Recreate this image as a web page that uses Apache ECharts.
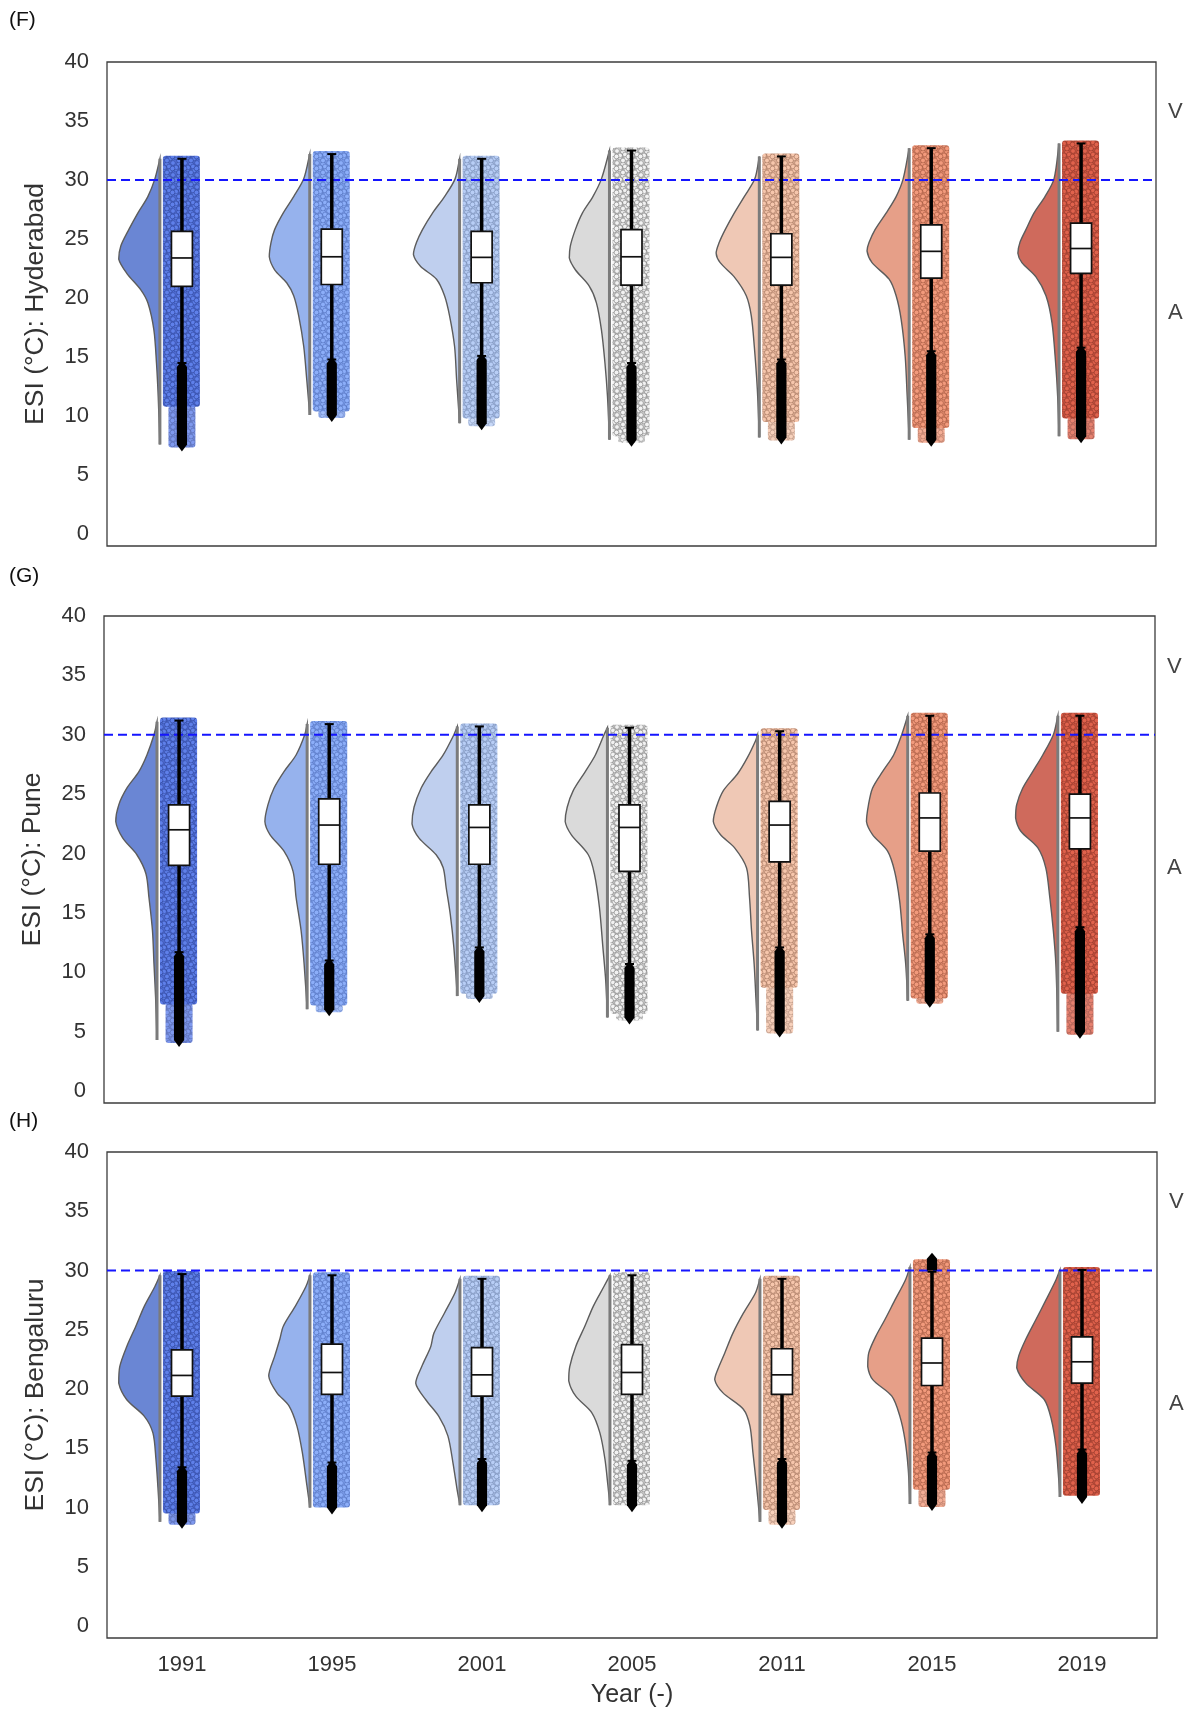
<!DOCTYPE html>
<html><head><meta charset="utf-8">
<script src="https://cdn.jsdelivr.net/npm/echarts@6/dist/echarts.min.js"></script>
<style>html,body{margin:0;padding:0;background:#fff}#c{width:1192px;height:1711px}</style>
</head><body><div id="c"></div><script>
// ---------------- data ----------------
const years = ['1991','1995','2001','2005','2011','2015','2019'];
const yTicks = [0,5,10,15,20,25,30,35,40];
const threshold = 30;
const zoneLabels = ['V','A'];
const zoneCenters = [35.75, 18.75];
const panelTags = ['(F)','(G)','(H)'];
const cityNames = ['Hyderabad','Pune','Bengaluru'];

// box rows: [whiskerLow, q1, median, q3, whiskerHigh]
const hydBox = [[14.5,21.0,23.4,25.65,31.8],[14.8,21.15,23.5,25.85,32.2],[15.1,21.3,23.45,25.65,31.8],[14.5,21.1,23.5,25.8,32.5],[14.8,21.1,23.45,25.45,32.0],[15.5,21.7,23.96,26.2,32.7],[15.8,22.1,24.2,26.35,33.1]];
const puneBox = [[11.7,19.0,22.0,24.1,31.2],[11.0,19.1,22.4,24.6,30.9],[12.1,19.1,22.2,24.1,30.7],[10.7,18.5,22.2,24.1,30.6],[12.1,19.3,22.4,24.4,30.3],[13.2,20.2,23.0,25.1,31.6],[13.8,20.4,23.0,25.0,31.6]];
const bengBox = [[13.4,19.4,21.15,23.3,29.7],[13.8,19.55,21.4,23.8,29.6],[14.1,19.4,21.2,23.5,29.3],[13.95,19.55,21.4,23.75,29.6],[14.1,19.55,21.2,23.4,29.3],[14.65,20.3,22.2,24.3,29.9],[14.9,20.5,22.3,24.4,30.05]];

// range rows: [min, bottom of dense cloud, max]
const hydRange = [[7.6,10.8,31.8],[10.1,10.4,32.2],[9.4,9.8,31.8],[8.0,8.3,32.5],[8.2,9.5,32.0],[8.0,9.0,32.7],[8.3,9.8,33.1]];
const puneRange = [[4.3,7.3,31.2],[6.9,7.2,30.9],[8.0,8.2,30.7],[6.2,6.5,30.6],[5.1,8.7,30.3],[7.6,7.8,31.6],[5.0,8.2,31.6]];
const bengRange = [[8.8,9.5,29.7],[10.0,10.0,29.6],[10.2,10.2,29.3],[10.2,10.2,29.6],[8.8,9.8,29.3],[10.3,11.5,30.7],[10.9,11.0,30.05]];

// high outliers [low, high] (or null)
const hydHigh = [null,null,null,null,null,null,null];
const puneHigh = [null,null,null,null,null,null,null];
const bengHigh = [null,null,null,null,null,[30.0,31.0],null];

// density profiles: [value, density]
const hydKde = [
 [[31.8,0],[30.1,5],[28.6,12],[27.2,22],[25.8,31],[24.4,39],[23.3,41],[22.1,33],[20.7,19],[19.6,12],[17.3,6],[14.5,3.4],[11.7,1.7],[7.6,0]],
 [[32.2,0],[30.1,6],[28.6,16],[27.2,26.5],[25.8,35],[24.7,38.6],[23.5,40.3],[22.4,35],[21.3,23],[20.2,16],[18.5,11],[15.9,6],[13.1,3],[10.1,0]],
 [[31.8,0],[30.1,4.5],[28.6,15],[27.2,27],[25.8,37],[24.7,43],[23.7,46],[22.7,39],[21.6,23],[20.2,15],[18.5,10],[15.9,5],[13.1,3],[9.4,0]],
 [[32.5,0],[30.1,8],[28.6,16.5],[27.2,27],[25.8,34],[24.4,39],[23.4,40],[22.4,34],[21.0,20],[19.6,13],[17.3,8],[14.5,4.5],[11.7,2],[8.0,0]],
 [[32.0,0],[30.1,4.5],[28.6,15],[27.2,25],[25.8,34],[24.7,40],[23.8,43],[23.0,39],[21.8,25],[20.2,13],[18.5,8],[15.9,5],[12.3,2],[8.2,0]],
 [[32.7,0],[30.1,6],[28.6,13],[27.2,23],[25.8,34],[24.7,40],[24.0,42],[23.0,37],[21.6,20],[20.2,13],[18.2,8],[15.1,4],[11.7,2],[8.0,0]],
 [[33.1,0],[30.1,5],[28.6,14],[27.2,25],[25.8,33],[24.7,39],[23.8,41],[23.0,37],[21.8,23],[20.2,13],[17.9,7],[14.5,3.4],[11.7,1.4],[8.3,0]]
];
const puneKde = [
 [[31.1,0],[30.0,3],[28.3,10],[26.9,18],[25.5,30],[24.1,38],[22.7,41],[21.3,34],[19.9,20],[18.3,11],[16.3,8],[13.5,4.5],[10.7,3],[7.9,1.4],[4.3,0]],
 [[30.9,0],[30.0,2.4],[28.3,11],[26.9,23],[25.5,33],[24.1,39],[22.7,42],[21.6,37],[20.2,23],[18.5,14],[16.3,11],[13.5,6],[10.7,3],[6.9,0]],
 [[30.7,0],[30.0,3.4],[28.3,14],[26.9,26],[25.5,36],[23.9,43],[22.5,45],[21.3,38],[19.9,21],[18.8,14],[17.1,11],[14.9,7],[12.1,3.4],[8.0,0]],
 [[30.6,0],[30.0,3.4],[28.3,12],[26.9,22],[25.3,34],[23.9,40],[22.7,42],[21.6,36],[19.9,19],[18.3,13],[15.5,8],[12.1,4.5],[9.3,1.7],[6.2,0]],
 [[30.0,0],[29.5,2],[28.1,10],[26.7,20],[25.3,34],[23.9,41],[22.7,44],[21.6,37],[20.5,23],[18.8,11],[16.3,8],[13.5,6],[10.7,3.4],[7.9,1.7],[5.1,0]],
 [[31.6,0],[30.0,6],[28.3,14],[26.9,25],[25.5,35],[24.1,39],[22.7,41],[21.6,35],[20.2,20],[18.5,13],[16.0,8],[13.2,5],[10.7,2],[7.6,0]],
 [[31.6,0],[30.0,4.5],[28.3,15],[26.9,25],[25.5,35],[24.1,41],[23.0,42],[21.9,37],[20.5,20],[18.8,12],[16.3,8],[13.5,4.5],[10.7,2],[5.0,0]]
];
const bengKde = [
 [[29.6,0],[28.65,5],[27.0,15.5],[25.3,24],[23.6,33],[21.9,40],[20.5,41],[19.1,33],[17.7,15.5],[16.3,7],[14.1,4],[11.3,1.7],[8.8,0]],
 [[29.6,0],[28.65,4],[27.0,14.5],[25.3,26.5],[24.2,30],[22.8,35],[21.1,41],[19.7,33],[18.6,21],[16.9,13],[14.65,7.6],[11.85,3],[10.0,0]],
 [[29.3,0],[28.1,5],[26.4,15.5],[24.7,26],[23.6,29],[21.9,38],[20.5,44],[19.1,34],[17.7,21],[16.05,12],[13.8,7],[11.3,2.4],[10.2,0]],
 [[29.6,0],[28.65,6],[27.0,16.5],[25.3,25],[23.6,34],[21.9,40],[20.7,41],[19.4,34],[18.0,18],[16.3,10],[14.1,5],[11.85,2],[10.2,0]],
 [[29.3,0],[28.1,4.5],[26.4,16.5],[24.7,27],[23.05,35],[21.65,42],[20.8,45],[19.7,37],[18.3,16.5],[16.9,10],[14.65,7],[11.85,3.4],[8.8,0]],
 [[30.3,0],[29.2,4.5],[27.5,15],[25.85,25],[24.45,34],[23.05,41],[21.9,42],[20.8,37],[19.4,18],[17.7,10],[15.75,5],[13.25,1.7],[10.3,0]],
 [[30.05,0],[29.2,4],[27.5,14],[25.85,24],[24.2,34],[22.8,41],[21.8,43],[20.5,34],[19.1,15.5],[17.45,8.6],[15.2,4],[12.95,1.7],[10.9,0]]
];

// ---------------- styles ----------------
const FONT = 'Liberation Sans, Arial, sans-serif';
const violinColors = ['#6a86d4','#96b2ed','#bfcfee','#dadada','#efc8b5','#e69f88','#cf6a5c'];
const cloudStyles = [
 ['#5f80ea','rgba(30,45,120,0.6)','#5270d8'],
 ['#8caef9','rgba(45,75,150,0.5)','#7e9fec'],
 ['#b8cef6','rgba(70,90,130,0.45)','#a9bfe6'],
 ['#f2f2f2','rgba(80,80,80,0.6)','#d2d2d2'],
 ['#f6c6ac','rgba(120,75,55,0.55)','#e4b49b'],
 ['#f29a7c','rgba(120,55,35,0.55)','#e08a6e'],
 ['#e0624c','rgba(100,35,25,0.55)','#cc5541']
];
function makeTile(fill, edge, bg){
  const s = 12, cv = document.createElement('canvas');
  cv.width = s; cv.height = s;
  const g = cv.getContext('2d');
  g.fillStyle = bg; g.fillRect(0,0,s,s);
  const spots = [[2,2.5],[8,1.5],[5,7],[11,8],[1,10.5],[8,11.5],[4.5,0.5],[11,4.5]];
  for (const [x,y] of spots) for (const dx of [-s,0,s]) for (const dy of [-s,0,s]) {
    g.beginPath(); g.arc(x+dx,y+dy,2.4,0,Math.PI*2);
    g.fillStyle = fill; g.fill(); g.lineWidth = 0.7; g.strokeStyle = edge; g.stroke();
  }
  return cv;
}
const patterns = cloudStyles.map(s => ({image: makeTile(s[0],s[1],s[2]), repeat: 'repeat'}));

const panels = [
  {box: hydBox, range: hydRange, kde: hydKde, high: hydHigh},
  {box: puneBox, range: puneRange, kde: puneKde, high: puneHigh},
  {box: bengBox, range: bengRange, kde: bengKde, high: bengHigh}
];
const grids = [
  {left:107, top:62, width:1049, height:484},
  {left:104, top:616, width:1051, height:487},
  {left:107, top:1152, width:1050, height:486}
];

function violinRender(p){
  return function(params, api){
    const i = params.dataIndex;
    const c = api.coord([i, 0])[0];
    const band = api.size([1, 0])[0];
    const Y = v => api.coord([i, v])[1];
    const kde = p.kde[i];
    const flatX = c - band*0.147;
    const outer = kde.map(([v,d]) => [flatX - d*band*0.0067, Y(v)]);
    const inner = kde.slice().reverse().map(([v]) => [flatX, Y(v)]);
    const yTop = Y(kde[0][0]), yBot = Y(kde[kde.length-1][0]);
    const minX = Math.min.apply(null, outer.map(q => q[0]));
    const [mn, dense, mx] = p.range[i];
    const ch = [
      {type:'polygon', shape:{points: outer.concat(inner), smooth:0.3, smoothConstraint:[[minX, yTop],[flatX, yBot]]},
       style:{fill: violinColors[i], stroke:'#5c5c5c', lineWidth:1.4}},
      {type:'line', shape:{x1:flatX, y1:yTop, x2:flatX, y2:yBot},
       style:{stroke:'#7b7b7b', lineWidth:3}},
      {type:'rect', shape:{x:c-band*0.127, y:Y(mx)-3, width:band*0.247, height:Y(dense)-Y(mx)+3, r:3},
       style:{fill: patterns[i]}}
    ];
    if (Y(mn) - Y(dense) > 2) {
      ch.push({type:'rect', shape:{x:c-band*0.09, y:Y(dense)-1, width:band*0.18, height:Y(mn)-Y(dense)+4, r:3},
        style:{fill: patterns[i], opacity:0.8}});
    }
    return {type:'group', children: ch};
  };
}
function boxRender(p){
  return function(params, api){
    const i = params.dataIndex;
    const c = api.coord([i, 0])[0];
    const band = api.size([1, 0])[0];
    const Y = v => api.coord([i, v])[1];
    const [wLo, q1, md, q3, wHi] = p.box[i];
    const mn = p.range[i][0];
    const hw = band*0.07, cap = band*0.03, ow = band*0.034;
    const ch = [
      {type:'line', shape:{x1:c,y1:Y(q3),x2:c,y2:Y(wHi)}, style:{stroke:'#000', lineWidth:3.5}},
      {type:'line', shape:{x1:c-cap,y1:Y(wHi),x2:c+cap,y2:Y(wHi)}, style:{stroke:'#000', lineWidth:2}},
      {type:'line', shape:{x1:c,y1:Y(q1),x2:c,y2:Y(wLo)}, style:{stroke:'#000', lineWidth:3.5}},
      {type:'line', shape:{x1:c-cap,y1:Y(wLo),x2:c+cap,y2:Y(wLo)}, style:{stroke:'#000', lineWidth:2}},
      {type:'polygon', shape:{points:[[c,Y(wLo)-3],[c+ow,Y(wLo)+4],[c+ow,Y(mn)],[c,Y(mn)+7],[c-ow,Y(mn)],[c-ow,Y(wLo)+4]]},
       style:{fill:'#000'}},
      {type:'rect', shape:{x:c-hw, y:Y(q3), width:2*hw, height:Y(q1)-Y(q3)},
       style:{fill:'#fff', stroke:'#111', lineWidth:1.7}},
      {type:'line', shape:{x1:c-hw,y1:Y(md),x2:c+hw,y2:Y(md)}, style:{stroke:'#111', lineWidth:1.7}}
    ];
    const h = p.high[i];
    if (h) {
      ch.push({type:'polygon', shape:{points:[[c,Y(h[1])-6],[c+ow,Y(h[1])],[c+ow,Y(h[0])],[c-ow,Y(h[0])],[c-ow,Y(h[1])]]},
        style:{fill:'#000'}});
    }
    return {type:'group', children: ch};
  };
}
function zoneRender(params, api){
  const cs = params.coordSys;
  const y = api.coord([0, api.value(1)])[1];
  return {type:'text', style:{text: zoneLabels[params.dataIndex], x: cs.x + cs.width + 12, y: y,
    fill:'#444', fontSize:22, fontFamily:FONT, align:'left', verticalAlign:'middle'}};
}
function thresholdRender(params, api){
  const cs = params.coordSys;
  const y = api.coord([0, api.value(1)])[1];
  return {type:'line', shape:{x1:cs.x, y1:y, x2:cs.x+cs.width, y2:y},
    style:{stroke:'#1515ff', lineWidth:2, lineDash:[9,5]}};
}

const option = {
  animation: false,
  backgroundColor: '#fff',
  textStyle: {fontFamily: FONT},
  grid: grids.map(g => Object.assign({show:true, borderColor:'#3c3c3c', borderWidth:1.3, backgroundColor:'transparent'}, g)),
  xAxis: grids.map((g, k) => ({
    type:'category', gridIndex:k, data: years, boundaryGap:true,
    axisLine:{show:false}, axisTick:{show:false}, splitLine:{show:false},
    axisLabel:{show: k===2, color:'#333', fontSize:22, margin:16, fontFamily:FONT},
    name: k===2 ? 'Year (-)' : '', nameLocation:'middle', nameGap:45,
    nameTextStyle:{color:'#333', fontSize:25, fontFamily:FONT}
  })),
  yAxis: grids.map((g, k) => ({
    type:'value', gridIndex:k, min:-1, max:40,
    axisLine:{show:false}, axisTick:{show:false}, splitLine:{show:false},
    axisLabel:{customValues: yTicks, color:'#333', fontSize:22, margin:18, fontFamily:FONT},
    name: 'ESI (°C): ' + cityNames[k], nameLocation:'middle', nameGap:58, nameRotate:90,
    nameTextStyle:{color:'#333', fontSize:26.5, fontFamily:FONT}
  })),
  graphic: panelTags.map((t, k) => ({type:'text', left:9, top:[10,566,1111][k],
    style:{text:t, fill:'#111', fontSize:21, fontFamily:FONT}})),
  series: []
};
panels.forEach((p, k) => {
  const base = {type:'custom', xAxisIndex:k, yAxisIndex:k};
  option.series.push(Object.assign({}, base, {name:'violin'+k, z:2, renderItem: violinRender(p),
    data: years.map((y, i) => [i, p.box[i][2]])}));
  option.series.push(Object.assign({}, base, {name:'threshold'+k, z:3, renderItem: thresholdRender,
    data: [[0, threshold]]}));
  option.series.push(Object.assign({}, base, {name:'box'+k, z:4, renderItem: boxRender(p),
    data: years.map((y, i) => [i, p.box[i][2]])}));
  option.series.push(Object.assign({}, base, {name:'zones'+k, z:5, renderItem: zoneRender,
    data: zoneCenters.map(v => [0, v])}));
});
const chart = echarts.init(document.getElementById('c'), null, {renderer:'canvas'});
chart.setOption(option);
</script></body></html>
